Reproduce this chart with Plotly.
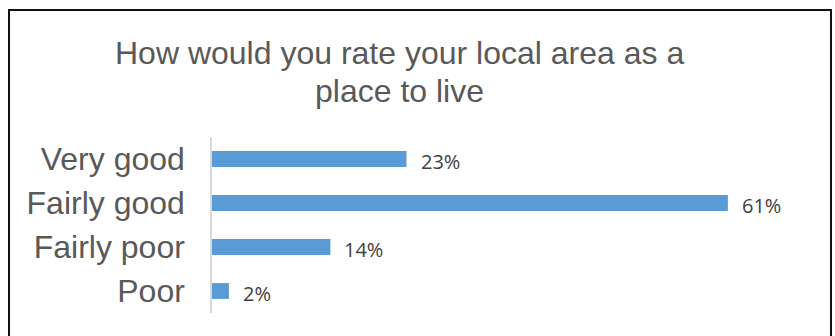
import plotly.graph_objects as go

# Survey responses: rating of the local area as a place to live
categories = ["Very good", "Fairly good", "Fairly poor", "Poor"]
shares = [23, 61, 14, 2]
value_labels = ["23%", "61%", "14%", "2%"]
title_lines = ["How would you rate your local area as a", "place to live"]

W, H = 835, 336
L, R, T, B = 212, 31, 137, 23
plot_w = W - L - R
plot_h = H - T - B

bar_color = "#5b9bd5"
text_grey = "#595959"
arial_like = "Liberation Sans, Arial, sans-serif"


def px_x(px):
    return (px - L) / plot_w


def px_y(px):
    return (H - B - px) / plot_h


fig = go.Figure(
    go.Bar(
        x=shares,
        y=categories,
        orientation="h",
        marker=dict(color=bar_color, line=dict(width=0)),
        width=0.36,
        hoverinfo="skip",
    )
)

# Value labels just to the right of each bar
for cat, val, lab in zip(categories, shares, value_labels):
    fig.add_annotation(
        x=val, y=cat, xref="x", yref="y",
        text=lab, showarrow=False,
        xanchor="left", yanchor="middle",
        xshift=12, yshift=-2,
        font=dict(family="Open Sans, Lato, sans-serif", size=20, color="#404040"),
    )

# Chart title, one annotation per line for tighter line spacing
for i, line in enumerate(title_lines):
    fig.add_annotation(
        x=px_x(399), y=px_y(33 + 38 * i),
        xref="paper", yref="paper",
        text=line, showarrow=False, xanchor="center", yanchor="top",
        font=dict(family=arial_like, size=32, color=text_grey),
    )

# Outer chart frame
fig.add_shape(
    type="rect", xref="paper", yref="paper",
    x0=px_x(9), x1=px_x(831),
    y0=px_y(345), y1=px_y(10),
    line=dict(color="#111111", width=2),
    fillcolor="rgba(0,0,0,0)",
    layer="above",
)

fig.update_layout(
    width=W, height=H,
    margin=dict(l=L, r=R, t=T, b=B, pad=0),
    paper_bgcolor="white",
    plot_bgcolor="white",
    showlegend=False,
    xaxis=dict(
        range=[0, 70], showgrid=False, zeroline=False,
        showticklabels=False, ticks="", showline=False,
        fixedrange=True,
    ),
    yaxis=dict(
        categoryorder="array", categoryarray=categories[::-1],
        range=[-0.5, 3.5],
        showgrid=False, zeroline=False, ticks="",
        showline=True, linecolor="#d9d9d9", linewidth=1.5,
        ticklabelstandoff=19,
        tickfont=dict(family=arial_like, size=32, color=text_grey),
        fixedrange=True,
    ),
)

fig.write_html("out.html")
